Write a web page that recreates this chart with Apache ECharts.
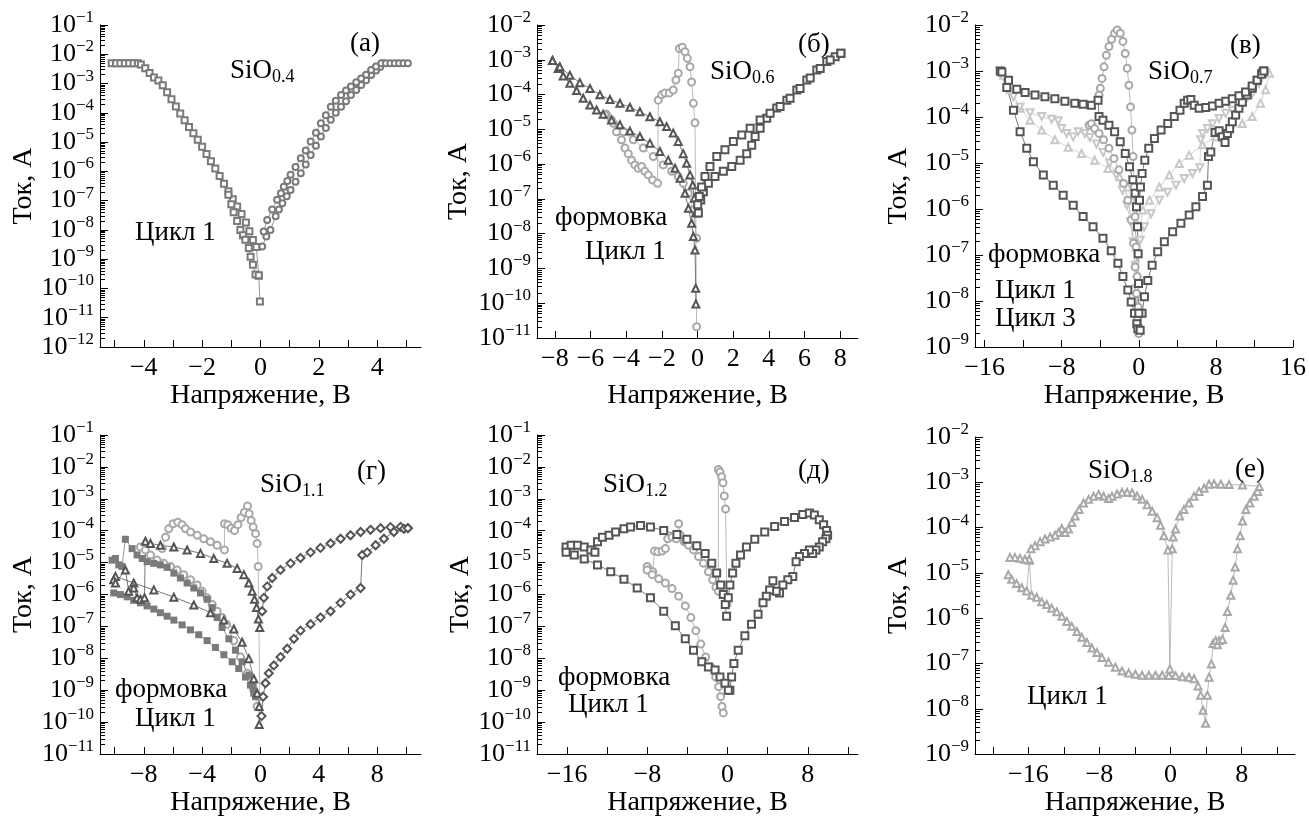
<!DOCTYPE html>
<html><head><meta charset="utf-8">
<script src="https://cdn.jsdelivr.net/npm/echarts@6/dist/echarts.min.js"></script>
<style>html,body{margin:0;padding:0;background:#fff}#c{width:1309px;height:818px}</style>
</head><body><div id="c"></div>
<script>
// ---------- tick arrays ----------
const A_X_TICKS = [-5,-4,-3,-2,-1,0,1,2,3,4,5];
const A_X_LABELS = [-4,-2,0,2,4];
const A_Y_TICKS = [1e-12,1e-11,1e-10,1e-9,1e-8,1e-7,1e-6,1e-5,1e-4,1e-3,1e-2,1e-1];
const B_X_TICKS = [-8,-6,-4,-2,0,2,4,6,8];
const B_X_LABELS = [-8,-6,-4,-2,0,2,4,6,8];
const B_Y_TICKS = [1e-11,1e-10,1e-9,1e-8,1e-7,1e-6,1e-5,1e-4,1e-3,1e-2];
const V_X_TICKS = [-16,-12,-8,-4,0,4,8,12,16];
const V_X_LABELS = [-16,-8,0,8,16];
const V_Y_TICKS = [1e-9,1e-8,1e-7,1e-6,1e-5,1e-4,1e-3,1e-2];
const G_X_TICKS = [-10,-8,-6,-4,-2,0,2,4,6,8,10];
const G_X_LABELS = [-8,-4,0,4,8];
const G_Y_TICKS = [1e-11,1e-10,1e-9,1e-8,1e-7,1e-6,1e-5,1e-4,1e-3,1e-2,1e-1];
const D_X_TICKS = [-16,-12,-8,-4,0,4,8,12];
const D_X_LABELS = [-16,-8,0,8];
const D_Y_TICKS = [1e-11,1e-10,1e-9,1e-8,1e-7,1e-6,1e-5,1e-4,1e-3,1e-2,1e-1];
const E_X_TICKS = [-20,-16,-12,-8,-4,0,4,8,12];
const E_X_LABELS = [-16,-8,0,8];
const E_Y_TICKS = [1e-9,1e-8,1e-7,1e-6,1e-5,1e-4,1e-3,1e-2];

// ---------- data: [voltage V, current A] ----------
// (a) SiO0.4
const A_SQ_FWD = [[-5.1,4.9e-3],[-4.95,4.9e-3],[-4.8,4.9e-3],[-4.65,4.9e-3],[-4.5,4.9e-3],[-4.35,4.9e-3],[-4.2,4.9e-3],[-4.1,4.5e-3],[-3.95,3.3e-3],[-3.8,2.3e-3],[-3.65,1.6e-3],[-3.5,1.26e-3],[-3.35,8.7e-4],[-3.2,5.0e-4],[-3.05,2.9e-4],[-2.9,1.66e-4],[-2.75,9.5e-5],[-2.6,5.6e-5],[-2.45,3.3e-5],[-2.3,2.0e-5],[-2.15,1.2e-5],[-2.0,6.9e-6],[-1.85,3.9e-6],[-1.7,2.2e-6],[-1.55,1.26e-6],[-1.4,6.9e-7],[-1.25,3.8e-7],[-1.1,2.1e-7],[-0.95,1.12e-7],[-0.8,6.3e-8],[-0.65,3.5e-8],[-0.5,1.8e-8],[-0.38,9e-9],[-0.26,4.5e-9],[-0.14,2.6e-9],[-0.06,2.7e-10],[-0.02,3.6e-11]];
const A_SQ_REV = [[-1.1,1.6e-7],[-1.0,7.5e-8],[-0.92,4.0e-8],[-0.8,2.0e-8],[-0.69,1.0e-8],[-0.6,6.6e-9],[-0.52,4.6e-9],[-0.4,2.4e-9],[-0.34,1.2e-9],[-0.26,6.5e-10],[-0.17,3.0e-10],[-0.06,2.8e-10]];
const A_CIR_REV = [[0.11,8.9e-9],[0.23,2.2e-8],[0.4,5.0e-8],[0.57,1.07e-7],[0.7,1.8e-7],[0.8,3.0e-7],[0.92,4.7e-7],[1.03,7.6e-7],[1.2,1.4e-6],[1.38,2.8e-6],[1.55,5.2e-6],[1.72,1.05e-5],[1.9,2.1e-5],[2.07,4.4e-5],[2.24,8.3e-5],[2.41,1.6e-4],[2.58,2.6e-4],[2.76,4.1e-4],[2.93,5.8e-4],[3.1,7.9e-4],[3.28,1.1e-3],[3.45,1.5e-3],[3.62,2.0e-3],[3.79,2.9e-3],[3.96,3.8e-3],[4.14,4.9e-3],[4.3,4.9e-3],[4.45,4.9e-3],[4.6,4.9e-3],[4.75,4.9e-3],[4.9,4.9e-3],[5.05,4.9e-3]];
const A_CIR_FWD = [[0.06,2.7e-9],[0.2,6.0e-9],[0.34,1.0e-8],[0.52,2.9e-8],[0.63,5e-8],[0.75,8.1e-8],[0.9,1.4e-7],[1.03,2.3e-7],[1.2,4.4e-7],[1.38,8.7e-7],[1.55,1.7e-6],[1.72,3.6e-6],[1.9,7.5e-6],[2.07,1.55e-5],[2.24,3.0e-5],[2.41,5.8e-5],[2.58,1.0e-4],[2.76,1.6e-4],[2.93,2.5e-4],[3.1,4.1e-4],[3.28,6.0e-4],[3.45,8.9e-4],[3.62,1.3e-3],[3.79,1.95e-3],[3.96,2.8e-3],[4.1,3.7e-3],[4.2,4.9e-3]];

// (б) SiO0.6
const B_TRI_LOW = [[-8.13,9.5e-4],[-7.81,5.6e-4],[-7.53,3.4e-4],[-7.16,2.1e-4],[-6.78,1.3e-4],[-6.41,7.8e-5],[-6.03,5.0e-5],[-5.66,3.6e-5],[-5.29,2.7e-5],[-4.82,1.86e-5],[-4.35,1.35e-5],[-3.79,8.9e-6],[-3.23,6.2e-6],[-2.67,4.0e-6],[-2.11,2.3e-6],[-1.64,1.3e-6],[-1.26,7.6e-7],[-0.98,3.9e-7],[-0.70,1.45e-7],[-0.51,5.4e-8],[-0.33,2.0e-8],[-0.23,8.3e-9],[-0.14,3.4e-9],[-0.10,2.7e-10],[-0.09,9.5e-11]];
const B_TRI_UP = [[-8.13,9.5e-4],[-7.72,6.3e-4],[-7.16,3.6e-4],[-6.60,2.2e-4],[-6.03,1.5e-4],[-5.47,9.8e-5],[-4.91,7.2e-5],[-4.35,5.6e-5],[-3.79,4.3e-5],[-3.23,3.2e-5],[-2.67,2.3e-5],[-2.11,1.66e-5],[-1.73,1.2e-5],[-1.36,7.8e-6],[-1.08,4.5e-6],[-0.80,2.0e-6],[-0.61,1.05e-6],[-0.42,4.9e-7],[-0.27,2.5e-7],[-0.18,1.05e-7],[-0.10,3.9e-8]];
const B_CIR_FORM = [[-5.10,2.7e-5],[-4.82,1.86e-5],[-4.54,8.5e-6],[-4.26,5.0e-6],[-4.07,2.9e-6],[-3.88,2.0e-6],[-3.70,1.3e-6],[-3.51,9.5e-7],[-3.32,7.6e-7],[-3.13,8.5e-7],[-2.95,6.2e-7],[-2.76,4.9e-7],[-2.52,3.5e-7],[-2.24,2.8e-7],[-2.20,6.9e-5],[-2.01,9.8e-5],[-1.83,1.1e-4],[-1.58,1.1e-4],[-1.36,1.35e-4],[-1.21,2.6e-4],[-1.08,4.1e-4],[-1.02,2.1e-3],[-0.85,2.3e-3],[-0.70,1.7e-3],[-0.57,1.1e-3],[-0.42,6.3e-4],[-0.33,2.3e-4],[-0.23,5.6e-5],[-0.14,1.55e-5],[-0.05,2.1e-11]];
const B_CIR_CYC = [[-5.19,2.6e-5],[-4.72,1.5e-5],[-4.16,8.5e-6],[-3.60,5.0e-6],[-3.04,2.9e-6],[-2.48,1.66e-6],[-1.92,9.5e-7],[-1.45,6.2e-7],[-1.08,4.4e-7],[-0.80,2.8e-7],[-0.51,1.45e-7],[-0.23,4.8e-8],[-0.05,7.4e-9]];
const B_SQ_FWD = [[0.05,3.9e-8],[0.18,9.3e-8],[0.33,1.6e-7],[0.61,2.8e-7],[0.98,4.4e-7],[1.45,6.2e-7],[1.92,8.5e-7],[2.39,1.3e-6],[2.76,2.0e-6],[3.04,3.5e-6],[3.23,6.2e-6],[3.51,1.07e-5],[3.88,2.1e-5],[4.44,4.1e-5],[5.01,6.9e-5],[5.57,1.35e-4],[6.13,2.6e-4],[6.69,5.1e-4],[7.25,8.9e-4],[7.72,1.23e-3],[8.04,1.55e-3]];
const B_SQ_REV = [[8.04,1.55e-3],[7.44,9.8e-4],[6.88,5.6e-4],[6.32,3.0e-4],[5.75,1.5e-4],[5.19,7.8e-5],[4.63,4.5e-5],[4.07,2.9e-5],[3.51,1.86e-5],[2.95,1.07e-5],[2.48,6.9e-6],[2.01,4.5e-6],[1.54,2.6e-6],[1.08,1.66e-6],[0.70,8.5e-7],[0.42,4.4e-7],[0.23,2.2e-7],[0.10,1.17e-7],[0.01,6.8e-8]];

// (в) SiO0.7
const V_SQ_OUTER_L = [[-14.38,1.0e-3],[-13.70,4.4e-4],[-13.01,1.4e-4],[-12.32,4.8e-5],[-11.63,2.1e-5],[-10.94,1.07e-5],[-9.91,5.5e-6],[-8.88,3.3e-6],[-7.85,2.0e-6],[-6.81,1.2e-6],[-5.78,6.9e-7],[-4.75,4.1e-7],[-3.72,2.3e-7],[-2.86,1.23e-7],[-2.17,6.6e-8],[-1.65,3.4e-8],[-1.14,1.74e-8],[-0.79,9.5e-9],[-0.45,5.4e-9],[-0.21,3.2e-9],[-0.1,2.5e-9]];
const V_SQ_LOWER_R = [[0.14,2.3e-9],[0.34,5.4e-9],[0.58,1.23e-8],[0.93,2.8e-8],[1.38,6.0e-8],[1.96,1.17e-7],[2.65,1.95e-7],[3.51,3.2e-7],[4.37,4.9e-7],[5.23,7.4e-7],[5.92,1.12e-6],[6.61,1.86e-6],[7.12,3.3e-6],[7.23,1.38e-5],[7.47,1.74e-5],[7.91,4.6e-5],[8.33,5.0e-5],[8.67,3.7e-5],[8.95,2.8e-5],[9.19,4.4e-5],[9.43,5.6e-5],[9.70,7.9e-5],[10.05,1.1e-4],[10.39,1.55e-4],[10.74,2.1e-4],[11.25,3.0e-4],[11.77,4.2e-4],[12.28,6.3e-4],[12.80,9.1e-4],[12.97,1.0e-3]];
const V_SQ_UPPER_L = [[-14.21,9.5e-4],[-13.52,6.3e-4],[-12.66,4.0e-4],[-11.80,3.4e-4],[-10.77,3.0e-4],[-9.74,2.75e-4],[-8.71,2.5e-4],[-7.67,2.2e-4],[-6.64,2.0e-4],[-5.78,1.9e-4],[-4.92,1.8e-4],[-4.23,2.3e-4],[-4.13,1.02e-4],[-3.72,8.5e-5],[-3.10,6.6e-5],[-2.51,4.8e-5],[-1.93,2.9e-5],[-1.41,1.6e-5],[-0.96,8.3e-6],[-0.62,4.3e-6],[-0.38,2.2e-6],[-0.24,1.12e-6],[-0.14,4.1e-7],[-0.07,1.07e-7],[-0.03,2.4e-8],[0.0,5.4e-9]];
const V_SQ_UPPER_R = [[0.07,1.55e-6],[0.17,3.0e-6],[0.34,5.9e-6],[0.62,1.15e-5],[1.03,2.1e-5],[1.62,3.4e-5],[2.31,5.2e-5],[3.00,7.2e-5],[3.68,1.02e-4],[4.27,1.4e-4],[4.71,2.0e-4],[5.06,2.3e-4],[5.40,2.4e-4],[5.75,1.8e-4],[6.26,1.55e-4],[6.95,1.6e-4],[7.64,1.74e-4],[8.33,2.0e-4],[9.02,2.2e-4],[9.70,2.5e-4],[10.39,2.9e-4],[11.08,3.5e-4],[11.77,4.7e-4],[12.28,6.3e-4],[12.73,8.5e-4],[12.97,1.0e-3]];
const V_CIR_FORM = [[-4.13,3.0e-4],[-3.99,4.2e-4],[-3.82,6.9e-4],[-3.61,1.23e-3],[-3.37,2.2e-3],[-3.10,3.4e-3],[-2.82,4.9e-3],[-2.51,6.6e-3],[-2.24,7.8e-3],[-1.93,6.6e-3],[-1.65,4.4e-3],[-1.41,2.4e-3],[-1.20,1.15e-3],[-1.03,4.9e-4],[-0.86,1.66e-4],[-0.72,5.2e-5],[-0.59,1.38e-5],[-0.48,3.0e-6],[-0.38,6.8e-7],[-0.28,1.5e-7],[-0.17,3.4e-8],[-0.07,7.4e-9],[0.0,1.95e-9]];
const V_CIR_CYC = [[-5.16,6.6e-5],[-4.92,7.1e-5],[-4.58,5.6e-5],[-4.13,4.4e-5],[-3.65,3.2e-5],[-3.10,2.1e-5],[-2.58,1.26e-5],[-2.06,7.1e-6],[-1.58,3.6e-6],[-1.14,1.55e-6],[-0.79,5.8e-7],[-0.55,1.8e-7],[-0.38,5.5e-8],[-0.24,1.45e-8],[-0.14,4.5e-9]];
const V_TRI_L1 = [[-14.4,1.0e-3],[-13.70,5.4e-4],[-13.01,2.75e-4],[-12.32,1.66e-4],[-11.29,1.23e-4],[-10.08,1.02e-4],[-9.05,8.9e-5],[-8.36,8.3e-5],[-8.02,5.6e-5],[-7.50,4.4e-5],[-6.81,3.7e-5],[-6.30,4.8e-5],[-5.61,4.4e-5],[-5.09,3.6e-5],[-4.40,2.6e-5],[-3.72,1.7e-5],[-3.03,1.0e-5],[-2.34,5.5e-6],[-1.72,2.6e-6],[-1.24,1.2e-6],[-0.86,5.2e-7],[-0.59,1.95e-7],[-0.38,6.0e-8],[-0.24,1.86e-8],[-0.14,6.9e-9]];
const V_TRI_L2 = [[-14.04,8.1e-4],[-13.35,3.9e-4],[-12.32,1.55e-4],[-11.29,8.5e-5],[-10.08,5.2e-5],[-8.71,3.2e-5],[-7.33,2.2e-5],[-5.95,1.6e-5],[-4.58,1.15e-5],[-3.20,7.6e-6],[-2.00,5.0e-6],[-1.14,3.0e-6],[-0.69,1.55e-6],[-0.41,5.8e-7],[-0.28,1.5e-7],[-0.17,4.0e-8]];
const V_TRI_R1 = [[0.14,4.1e-7],[0.41,9.5e-7],[1.10,1.55e-6],[2.13,3.0e-6],[3.17,5.5e-6],[4.20,9.8e-6],[5.23,1.48e-5],[6.61,2.5e-5],[7.98,3.7e-5],[9.36,5.2e-5],[10.74,7.2e-5],[11.77,1.02e-4],[12.63,2.0e-4],[13.15,3.9e-4],[13.56,8.9e-4]];
const V_TRI_R2 = [[0.14,2.1e-7],[0.58,4.1e-7],[1.27,7.9e-7],[2.13,1.55e-6],[2.99,2.3e-6],[3.85,3.3e-6],[4.71,4.6e-6],[5.57,5.9e-6],[6.33,7.9e-6],[6.43,3.2e-5],[6.61,4.4e-5],[7.12,5.6e-5],[7.64,7.1e-5],[8.33,9.3e-5],[9.02,1.2e-4],[9.70,1.4e-4],[10.39,1.66e-4],[11.08,2.3e-4],[11.77,3.2e-4],[12.46,5.4e-4],[12.97,8.9e-4]];

// (г) SiO1.1
const G_DIA_UP = [[0.11,3.0e-7],[0.23,7.9e-7],[0.46,1.8e-6],[0.80,3.3e-6],[1.37,5.9e-6],[2.06,9.5e-6],[2.74,1.4e-5],[3.43,2.1e-5],[4.11,2.9e-5],[4.80,4.0e-5],[5.49,5.6e-5],[6.17,7.2e-5],[6.86,9.1e-5],[7.54,1.07e-4],[8.23,1.2e-4],[8.91,1.3e-4],[9.60,1.32e-4],[10.1,1.2e-4]];
const G_DIA_LOW = [[0.07,1.55e-10],[0.18,6.3e-10],[0.34,1.66e-9],[0.57,3.4e-9],[0.91,6.0e-9],[1.37,1.1e-8],[1.83,2.0e-8],[2.29,4.1e-8],[2.74,7.4e-8],[3.43,1.17e-7],[4.11,1.9e-7],[4.80,3.0e-7],[5.49,5.5e-7],[6.17,1.0e-6],[6.86,1.6e-6],[6.97,1.74e-5],[7.31,2.1e-5],[7.89,3.5e-5],[8.46,5.6e-5],[9.14,9.1e-5],[9.83,1.15e-4],[10.1,1.2e-4]];
const G_TRI_UP = [[-10.06,2.9e-6],[-9.94,2.3e-6],[-9.26,5.9e-6],[-9.03,1.26e-6],[-8.69,1.6e-6],[-8.46,7.9e-7],[-8.23,7.1e-7],[-7.95,7.9e-7],[-7.89,4.7e-5],[-7.54,4.0e-5],[-6.86,3.5e-5],[-5.94,3.1e-5],[-5.03,2.5e-5],[-4.11,1.95e-5],[-3.20,1.35e-5],[-2.29,9.5e-6],[-1.60,6.6e-6],[-1.14,4.2e-6],[-0.80,2.3e-6],[-0.57,1.26e-6],[-0.41,7.1e-7],[-0.27,3.9e-7],[-0.14,1.7e-7],[-0.05,9.3e-8]];
const G_TRI_LOW = [[-9.94,3.7e-6],[-8.69,2.3e-6],[-7.31,1.4e-6],[-5.94,8.3e-7],[-4.57,4.7e-7],[-3.43,2.7e-7],[-2.51,1.58e-7],[-1.83,8.3e-8],[-1.26,3.2e-8],[-0.80,9.8e-9],[-0.46,2.3e-9],[-0.23,8.1e-10],[-0.09,3.1e-10],[-0.09,8.5e-11]];
const G_SQF_UP = [[-10.17,1.2e-5],[-9.94,1.35e-5],[-9.71,8.5e-6],[-9.49,7.6e-6],[-9.26,5.4e-5],[-8.80,2.75e-5],[-8.46,1.74e-5],[-8.11,1.35e-5],[-7.77,1.07e-5],[-7.31,9.5e-6],[-6.86,8.5e-6],[-6.40,7.1e-6],[-5.94,4.7e-6],[-5.49,3.3e-6],[-5.03,2.3e-6],[-4.57,1.6e-6],[-4.11,1.12e-6],[-3.66,7.1e-7],[-3.31,3.9e-7],[-2.97,1.9e-7],[-2.63,9.3e-8],[-2.17,4.1e-8],[-1.71,1.8e-8],[-1.26,7.8e-9],[-0.80,3.0e-9],[-0.50,1.3e-9],[-0.34,6.3e-10]];
const G_SQF_LOW = [[-10.06,1.12e-6],[-9.60,1.0e-6],[-9.14,8.5e-7],[-8.69,6.6e-7],[-8.23,5.5e-7],[-7.77,4.4e-7],[-7.31,3.5e-7],[-6.86,2.7e-7],[-6.40,2.1e-7],[-5.94,1.58e-7],[-5.37,1.12e-7],[-4.80,7.8e-8],[-4.23,5.5e-8],[-3.66,3.6e-8],[-3.09,2.2e-8],[-2.51,1.3e-8],[-1.94,7.8e-9],[-1.49,4.8e-9],[-1.03,2.6e-9],[-0.69,1.45e-9],[-0.46,8.1e-10]];
const G_CIR_FORM = [[-6.74,2.75e-5],[-6.51,6.3e-5],[-6.29,1.15e-4],[-5.99,1.66e-4],[-5.67,1.86e-4],[-5.37,1.55e-4],[-5.14,1.15e-4],[-4.80,9.1e-5],[-4.34,7.2e-5],[-3.89,5.6e-5],[-3.43,4.5e-5],[-2.97,3.5e-5],[-2.47,2.5e-5],[-2.47,1.66e-4],[-2.24,1.55e-4],[-2.01,1.2e-4],[-1.78,1.02e-4],[-1.55,1.55e-4],[-1.33,2.6e-4],[-1.10,3.8e-4],[-0.89,6.0e-4],[-0.78,3.4e-4],[-0.64,2.1e-4],[-0.50,1.3e-4],[-0.34,8.1e-5],[-0.23,4.0e-5],[-0.16,7.6e-6],[-0.05,6.3e-10]];
const G_CIR_CYC = [[-8.23,3.1e-5],[-7.89,2.5e-5],[-7.54,1.74e-5],[-7.09,1.2e-5],[-6.63,9.5e-6],[-6.17,7.6e-6],[-5.71,5.9e-6],[-5.26,4.2e-6],[-4.80,2.9e-6],[-4.34,2.0e-6],[-4.00,1.26e-6],[-3.66,7.9e-7],[-3.31,4.9e-7],[-2.97,3.0e-7],[-2.63,1.9e-7],[-2.33,1.17e-7],[-1.83,3.6e-8],[-1.37,1.1e-8],[-0.91,3.4e-9],[-0.46,1.0e-9],[-0.23,3.1e-10]];

// (д) SiO1.2
const D_SQ_UPL = [[-16.1,3.1e-5],[-15.6,3.5e-5],[-14.95,3.5e-5],[-14.29,3.1e-5],[-13.63,2.5e-5],[-13.23,2.1e-5],[-12.97,4.5e-5],[-12.48,6.3e-5],[-11.81,7.2e-5],[-11.16,9.1e-5],[-10.33,1.15e-4],[-9.67,1.3e-4],[-8.68,1.45e-4],[-7.69,1.3e-4],[-6.37,1.02e-4],[-5.05,7.6e-5],[-4.06,5.4e-5],[-3.07,3.4e-5],[-2.24,1.95e-5],[-1.58,9.5e-6],[-1.09,4.7e-6],[-0.69,2.0e-6],[-0.43,1.0e-6],[-0.23,4.9e-7],[-0.10,2.1e-7]];
const D_SQ_UPR = [[0.07,7.9e-7],[0.23,2.0e-6],[0.50,4.7e-6],[0.83,9.5e-6],[1.29,1.74e-5],[1.88,3.1e-5],[2.71,5.4e-5],[3.70,9.1e-5],[4.69,1.35e-4],[5.68,1.95e-4],[6.67,2.6e-4],[7.49,3.2e-4],[8.15,3.6e-4],[8.65,3.1e-4],[9.14,2.2e-4],[9.57,1.55e-4],[9.87,1.02e-4],[9.97,7.2e-5]];
const D_SQ_LOWR = [[9.80,5.6e-5],[9.47,4.5e-5],[9.14,3.1e-5],[8.81,2.5e-5],[8.48,1.95e-5],[8.15,2.5e-5],[7.66,1.95e-5],[7.16,1.55e-5],[6.83,1.07e-5],[6.50,3.7e-6],[6.0,2.9e-6],[5.51,2.0e-6],[5.18,1.12e-6],[4.85,1.26e-6],[4.52,2.7e-6],[4.19,1.4e-6],[3.86,8.9e-7],[3.53,5.5e-7],[3.04,2.4e-7],[2.38,1.17e-7],[1.72,5.1e-8],[1.06,1.8e-8],[0.63,6.9e-9],[0.40,2.6e-9],[0.23,1.0e-9]];
const D_SQ_LOWL = [[-16.1,2.1e-5],[-15.28,1.74e-5],[-14.29,1.3e-5],[-12.97,8.5e-6],[-11.65,5.2e-6],[-10.33,3.0e-6],[-9.01,1.6e-6],[-7.69,7.9e-7],[-6.37,3.0e-7],[-5.21,1.05e-7],[-4.22,4.1e-8],[-3.40,1.8e-8],[-2.57,7.8e-9],[-1.91,5.4e-9],[-1.25,4.3e-9],[-0.76,2.6e-9],[-0.26,1.66e-9],[0.07,1.0e-9]];
const D_CIR_FORM = [[-8.02,7.6e-6],[-7.79,5.9e-6],[-7.46,5.2e-6],[-7.29,2.3e-5],[-6.96,2.2e-5],[-6.53,2.3e-5],[-6.20,2.75e-5],[-5.97,5.6e-5],[-5.54,6.3e-5],[-5.12,5.6e-5],[-4.88,1.66e-4],[-4.72,7.2e-5],[-4.32,4.5e-5],[-3.89,3.5e-5],[-3.40,2.5e-5],[-2.90,1.55e-5],[-2.41,9.5e-6],[-1.91,5.2e-6],[-1.49,2.9e-6],[-1.16,1.7e-6],[-0.92,1.26e-6],[-0.92,8.3e-3],[-0.76,6.9e-3],[-0.59,4.9e-3],[-0.46,3.2e-3],[-0.33,1.23e-3],[-0.20,4.8e-4],[-0.07,4.9e-7]];
const D_CIR_CYC = [[-8.02,5.9e-6],[-7.52,4.2e-6],[-6.86,3.1e-6],[-6.20,2.3e-6],[-5.54,1.55e-6],[-4.88,8.9e-7],[-4.22,4.4e-7],[-3.66,1.9e-7],[-3.17,7.4e-8],[-2.67,2.8e-8],[-2.18,1.1e-8],[-1.68,5.4e-9],[-1.19,2.6e-9],[-0.89,1.3e-9],[-0.69,6.3e-10],[-0.56,3.1e-10],[-0.43,1.95e-10]];

// (е) SiO1.8
const E_TRI = [[-18.26,9.1e-6],[-17.88,7.2e-6],[-17.32,5.8e-6],[-16.75,4.7e-6],[-16.19,4.0e-6],[-15.89,1.9e-5],[-15.63,3.2e-6],[-15.06,2.9e-6],[-14.50,2.3e-6],[-13.93,2.0e-6],[-13.37,1.66e-6],[-12.80,1.38e-6],[-12.24,1.1e-6],[-11.67,8.5e-7],[-11.11,6.6e-7],[-10.54,5.1e-7],[-9.98,3.8e-7],[-9.41,2.9e-7],[-8.85,2.2e-7],[-8.28,1.74e-7],[-7.72,1.35e-7],[-6.97,1.07e-7],[-6.21,8.3e-8],[-5.46,6.8e-8],[-4.71,6.2e-8],[-3.95,5.8e-8],[-3.20,5.5e-8],[-2.45,5.5e-8],[-1.69,5.5e-8],[-0.94,5.5e-8],[-0.19,5.4e-8],[0.56,5.4e-8],[1.32,5.1e-8],[2.07,5.0e-8],[2.64,4.6e-8],[3.09,3.2e-8],[3.39,2.0e-8],[3.65,9.3e-9],[3.95,4.8e-9],[4.14,2.0e-8],[4.33,5.0e-8],[4.59,9.8e-8],[4.78,2.75e-7],[5.08,3.2e-7],[5.27,2.6e-7],[5.46,3.2e-7],[5.84,3.4e-7],[6.14,6.2e-7],[6.40,1.4e-6],[6.78,3.2e-6],[7.04,6.9e-6],[7.27,1.35e-5],[7.53,3.4e-5],[7.83,6.6e-5],[8.09,1.4e-4],[8.47,2.5e-4],[8.92,3.5e-4],[9.41,4.9e-4],[9.79,6.3e-4],[9.98,8.1e-4],[8.09,8.7e-4],[6.59,8.9e-4],[5.65,9.1e-4],[4.89,9.3e-4],[4.33,9.1e-4],[3.77,7.4e-4],[3.20,6.3e-4],[2.64,4.9e-4],[2.07,3.5e-4],[1.51,2.5e-4],[1.02,1.8e-4],[0.56,9.3e-5],[0.30,6.2e-5],[0.19,3.4e-5],[-0.08,7.6e-8],[-0.30,3.2e-5],[-0.75,6.6e-5],[-1.13,1.12e-4],[-1.51,1.66e-4],[-2.07,2.3e-4],[-2.64,3.2e-4],[-3.20,4.2e-4],[-3.77,5.0e-4],[-4.33,5.9e-4],[-4.89,6.0e-4],[-5.46,6.0e-4],[-6.02,5.5e-4],[-6.59,4.9e-4],[-6.97,4.4e-4],[-7.53,4.9e-4],[-8.09,5.4e-4],[-8.66,4.9e-4],[-9.22,4.2e-4],[-9.79,3.5e-4],[-10.28,2.5e-4],[-10.73,1.8e-4],[-11.11,1.3e-4],[-11.48,9.3e-5],[-11.86,7.8e-5],[-12.24,9.5e-5],[-12.61,7.8e-5],[-12.99,6.8e-5],[-13.55,6.2e-5],[-14.12,5.6e-5],[-14.68,4.9e-5],[-15.25,4.0e-5],[-15.70,3.4e-5],[-15.89,2.0e-5],[-16.38,2.0e-5],[-16.94,2.1e-5],[-17.51,2.2e-5],[-18.07,2.2e-5]];

// ---------- rendering ----------
const FONT = '"Liberation Serif","Times New Roman",serif';
const DARK = '#555', MID = '#7a7a7a', LIGHT = '#a8a8a8', PALE = '#c8c8c8';

function S(data, symbol, color, extra) {
  return Object.assign({
    type: 'line', data: data, symbol: symbol, symbolSize: 7, showSymbol: true,
    lineStyle: { width: 0.8, color: color }, itemStyle: { color: color, borderWidth: 1 },
    emphasis: { disabled: true }, silent: true, animation: false
  }, extra || {});
}

const PANELS = [
  { box: [100, 25, 321, 322], x: [-5.5, 5.5], xt: A_X_TICKS, xl: A_X_LABELS, yt: A_Y_TICKS, gapX: 35, gapY: 58,
    series: [S(A_SQ_FWD, 'emptyRect', MID, {symbolSize: 6}), S(A_SQ_REV, 'emptyRect', MID, {symbolSize: 6}), S(A_CIR_FWD, 'emptyCircle', MID, {symbolSize: 6}), S(A_CIR_REV, 'emptyCircle', MID, {symbolSize: 6})] },
  { box: [537, 25, 321, 313], x: [-9, 9], xt: B_X_TICKS, xl: B_X_LABELS, yt: B_Y_TICKS, gapX: 44, gapY: 64,
    series: [S(B_CIR_FORM, 'emptyCircle', LIGHT), S(B_CIR_CYC, 'emptyCircle', LIGHT), S(B_TRI_LOW, 'emptyTriangle', DARK), S(B_TRI_UP, 'emptyTriangle', DARK), S(B_SQ_FWD, 'emptyRect', DARK), S(B_SQ_REV, 'emptyRect', DARK)] },
  { box: [975, 25, 320, 322], x: [-17, 16], xt: V_X_TICKS, xl: V_X_LABELS, yt: V_Y_TICKS, gapX: 35, gapY: 62,
    series: [S(V_TRI_L2, 'emptyTriangle', PALE), S(V_TRI_L1, 'emptyTriangle', PALE, {symbolRotate: 180}), S(V_TRI_R1, 'emptyTriangle', PALE), S(V_TRI_R2, 'emptyTriangle', PALE, {symbolRotate: 180}), S(V_CIR_CYC, 'emptyCircle', LIGHT), S(V_CIR_FORM, 'emptyCircle', LIGHT), S(V_SQ_OUTER_L, 'emptyRect', DARK), S(V_SQ_LOWER_R, 'emptyRect', DARK), S(V_SQ_UPPER_L, 'emptyRect', DARK), S(V_SQ_UPPER_R, 'emptyRect', DARK)] },
  { box: [100, 435, 321, 323], x: [-11, 11], xt: G_X_TICKS, xl: G_X_LABELS, yt: G_Y_TICKS, gapX: 32, gapY: 60,
    series: [S(G_CIR_FORM, 'emptyCircle', LIGHT), S(G_CIR_CYC, 'emptyCircle', LIGHT), S(G_SQF_UP, 'rect', MID), S(G_SQF_LOW, 'rect', MID), S(G_TRI_LOW, 'emptyTriangle', DARK), S(G_TRI_UP, 'emptyTriangle', DARK), S(G_DIA_UP, 'emptyDiamond', DARK, {symbolSize: 8}), S(G_DIA_LOW, 'emptyDiamond', DARK, {symbolSize: 8})] },
  { box: [537, 435, 321, 323], x: [-19, 13], xt: D_X_TICKS, xl: D_X_LABELS, yt: D_Y_TICKS, gapX: 32, gapY: 62,
    series: [S(D_CIR_FORM, 'emptyCircle', LIGHT), S(D_CIR_CYC, 'emptyCircle', LIGHT), S(D_SQ_UPL, 'emptyRect', DARK), S(D_SQ_UPR, 'emptyRect', DARK), S(D_SQ_LOWR, 'emptyRect', DARK), S(D_SQ_LOWL, 'emptyRect', DARK)] },
  { box: [975, 437, 320, 321], x: [-22, 14], xt: E_X_TICKS, xl: E_X_LABELS, yt: E_Y_TICKS, gapX: 32, gapY: 62,
    series: [S(E_TRI, 'emptyTriangle', LIGHT)] }
];

function minors(decades) {
  const out = [];
  for (let i = 0; i < decades.length - 1; i++) for (let m = 2; m <= 9; m++) out.push(+(m * decades[i]).toPrecision(3));
  return out;
}
function fmtX(v) { return v < 0 ? '\u2212' + Math.abs(v) : String(v); }
function fmtY(v) { const e = Math.round(Math.log10(v)); return '{b|10}{s|' + (e < 0 ? '\u2212' : '') + Math.abs(e) + '}'; }

const grids = [], xAxes = [], yAxes = [], series = [];
PANELS.forEach(function (p, i) {
  grids.push({ left: p.box[0], top: p.box[1], width: p.box[2], height: p.box[3], containLabel: false });
  xAxes.push({
    gridIndex: i, type: 'value', min: p.x[0], max: p.x[1],
    axisLine: { onZero: false, lineStyle: { color: '#000', width: 1 } },
    axisTick: { inside: true, length: 7, customValues: p.xt, lineStyle: { color: '#000' } },
    axisLabel: { customValues: p.xl, formatter: fmtX, fontSize: 26, fontFamily: FONT, color: '#000', margin: 8 },
    splitLine: { show: false },
    name: 'Напряжение, В', nameLocation: 'middle', nameGap: p.gapX,
    nameTextStyle: { fontSize: 28, fontFamily: FONT, color: '#000' }
  });
  const ymin = p.yt[0], ymax = p.yt[p.yt.length - 1];
  yAxes.push({
    gridIndex: i, type: 'log', logBase: 10, min: ymin, max: ymax, position: 'left',
    axisLine: { show: true, onZero: false, lineStyle: { color: '#000', width: 1 } },
    axisTick: { inside: true, length: 8, customValues: p.yt, lineStyle: { color: '#000' } },
    axisLabel: { customValues: p.yt, formatter: fmtY, margin: 6, color: '#000',
      rich: { b: { fontSize: 26, fontFamily: FONT, color: '#000', lineHeight: 32 },
              s: { fontSize: 17, fontFamily: FONT, color: '#000', lineHeight: 14, verticalAlign: 'top' } } },
    splitLine: { show: false },
    name: 'Ток, А', nameLocation: 'middle', nameGap: p.gapY,
    nameTextStyle: { fontSize: 28, fontFamily: FONT, color: '#000' }
  });
  yAxes.push({
    gridIndex: i, type: 'log', logBase: 10, min: ymin, max: ymax, position: 'left',
    axisLine: { show: false, onZero: false },
    axisTick: { inside: true, length: 5, customValues: minors(p.yt), lineStyle: { color: '#000' } },
    axisLabel: { show: false }, splitLine: { show: false }
  });
  p.series.forEach(function (s) { s.xAxisIndex = i; s.yAxisIndex = 2 * i; series.push(s); });
});

function T(x, y, text, sub) {
  const rich = { m: { fontSize: 27, fontFamily: FONT, color: '#000', lineHeight: 30 },
                 s: { fontSize: 18, fontFamily: FONT, color: '#000', lineHeight: 12, verticalAlign: 'bottom' } };
  return { type: 'text', x: x, y: y, silent: true, z: 10,
    style: { text: sub ? '{m|' + text + '}{s|' + sub + '}' : '{m|' + text + '}', rich: rich, verticalAlign: 'middle', align: 'left' } };
}
const graphics = [
  T(350, 44, '(a)'), T(230, 71, 'SiO', '0.4'), T(135, 233, 'Цикл 1'),
  T(798, 45, '(б)'), T(710, 72, 'SiO', '0.6'), T(555, 218, 'формовка'), T(585, 252, 'Цикл 1'),
  T(1230, 46, '(в)'), T(1148, 72, 'SiO', '0.7'), T(988, 255, 'формовка'), T(995, 291, 'Цикл 1'), T(995, 319, 'Цикл 3'),
  T(357, 472, '(г)'), T(260, 485, 'SiO', '1.1'), T(115, 690, 'формовка'), T(135, 719, 'Цикл 1'),
  T(798, 471, '(д)'), T(603, 485, 'SiO', '1.2'), T(558, 678, 'формовка'), T(568, 705, 'Цикл 1'),
  T(1235, 470, '(е)'), T(1088, 471, 'SiO', '1.8'), T(1027, 697, 'Цикл 1')
];

const chart = echarts.init(document.getElementById('c'), null, { renderer: 'canvas' });
chart.setOption({
  backgroundColor: '#fff', animation: false,
  grid: grids, xAxis: xAxes, yAxis: yAxes, series: series, graphic: graphics
});
</script></body></html>
